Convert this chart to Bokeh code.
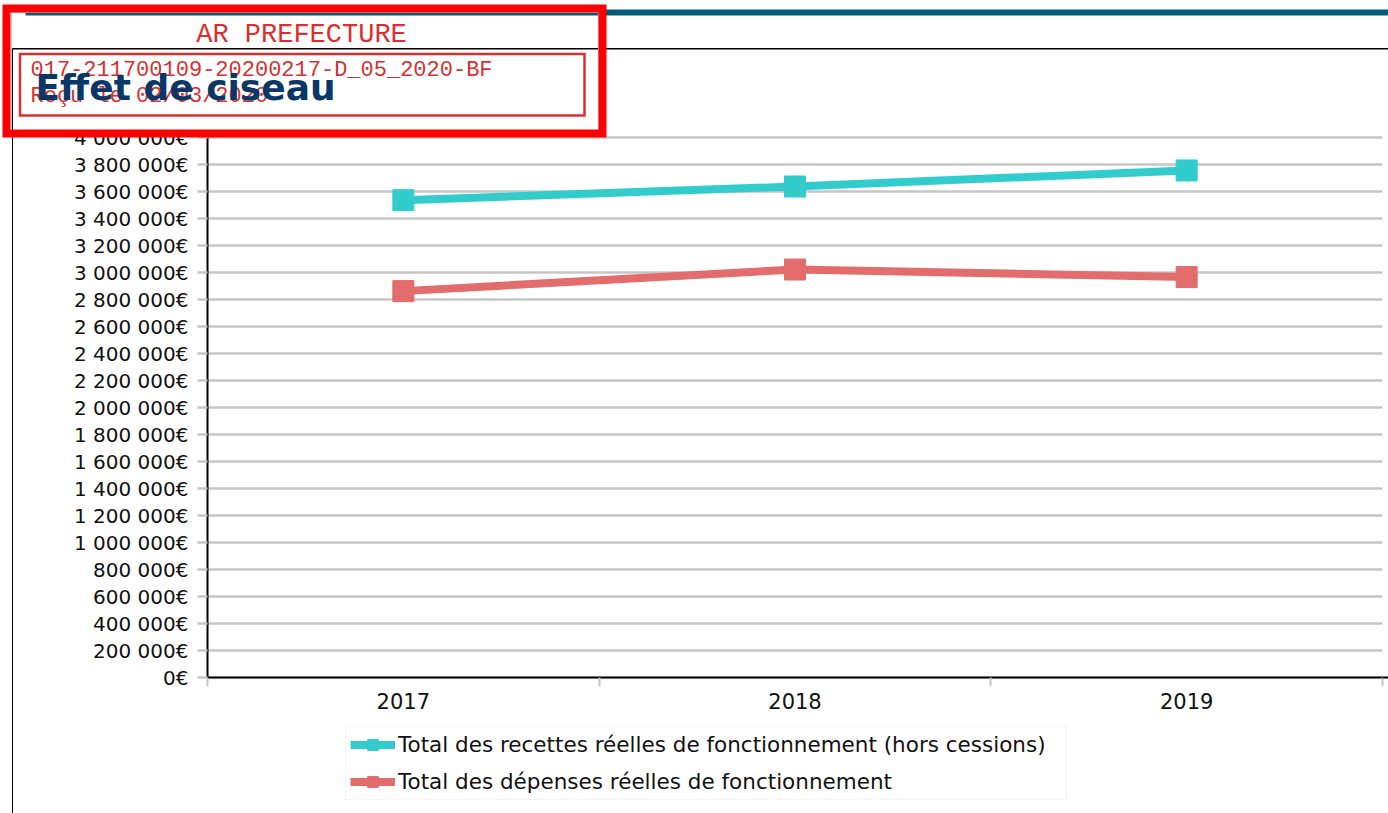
from bokeh.plotting import figure
from bokeh.models import (Range1d, FixedTicker, Legend, LegendItem, BoxAnnotation, Label)
from bokeh.embed import file_html
from bokeh.resources import INLINE

# ---------------- data ----------------
YEARS = [2017, 2018, 2019]
YEAR_LABELS = ["2017", "2018", "2019"]
RECETTES = [3536000, 3637000, 3756000]
DEPENSES = [2862000, 3022000, 2966000]
SERIES_NAMES = ["Total des recettes réelles de fonctionnement (hors cessions)",
                "Total des dépenses réelles de fonctionnement"]
Y_TICKS = [0, 200000, 400000, 600000, 800000, 1000000, 1200000, 1400000, 1600000,
           1800000, 2000000, 2200000, 2400000, 2600000, 2800000, 3000000, 3200000,
           3400000, 3600000, 3800000, 4000000]
Y_TICK_LABELS = ["0€", "200 000€", "400 000€", "600 000€", "800 000€", "1 000 000€",
                 "1 200 000€", "1 400 000€", "1 600 000€", "1 800 000€", "2 000 000€",
                 "2 200 000€", "2 400 000€", "2 600 000€", "2 800 000€", "3 000 000€",
                 "3 200 000€", "3 400 000€", "3 600 000€", "3 800 000€", "4 000 000€"]
TITLE = "Effet de ciseau"
STAMP_HEAD = "AR PREFECTURE"
STAMP_LINES = ["017-211700109-20200217-D_05_2020-BF", "Reçu le 02/03/2020"]

# ---------------- layout (canvas pixels) ----------------
W, H = 1388, 813
FL, FR, FT, FB = 207, 1382, 137, 677   # plot area inside the canvas

TEAL = "#33cccc"
RED = "#e36c6c"
FONT = "DejaVu Sans"

X0, X1 = YEARS[0] - 0.5, YEARS[-1] + 0.5
Y0, Y1 = Y_TICKS[0], Y_TICKS[-1]
kx = (FR - FL) / (X1 - X0)
ky = (FB - FT) / (Y1 - Y0)

p = figure(width=W, height=H, output_backend="svg", toolbar_location=None,
           x_range=Range1d(X0 - FL / kx, X1 + (W - FR) / kx),
           y_range=Range1d(Y0 - (H - FB) / ky, Y1 + FT / ky),
           min_border=0, min_border_left=0, min_border_right=0,
           min_border_top=0, min_border_bottom=0,
           background_fill_color="white", border_fill_color="white",
           outline_line_color=None)
p.grid.visible = False

# axes (drawn at fixed positions inside the full-canvas frame)
ya = p.yaxis[0]
ya.fixed_location = X0
ya.bounds = (Y0, Y1)
ya.ticker = FixedTicker(ticks=Y_TICKS)
ya.major_label_overrides = {t: l for t, l in zip(Y_TICKS, Y_TICK_LABELS)}
ya.major_label_text_font = FONT
ya.major_label_text_font_size = "20px"
ya.major_label_text_color = "#111111"
ya.major_tick_out = 10
ya.major_tick_in = 0
ya.major_tick_line_color = "#c6c6c6"
ya.major_tick_line_width = 2.5
ya.minor_tick_line_color = None
ya.major_label_standoff = 9
ya.axis_line_color = "black"
ya.axis_line_width = 2

xa = p.xaxis[0]
xa.fixed_location = Y0
xa.bounds = (X0, X1)
bounds = [X0] + [y + 0.5 for y in YEARS]
xa.ticker = FixedTicker(ticks=YEARS, minor_ticks=bounds)
xa.major_label_overrides = {y: l for y, l in zip(YEARS, YEAR_LABELS)}
xa.major_label_text_font = FONT
xa.major_label_text_font_size = "21px"
xa.major_label_text_color = "#111111"
xa.major_tick_line_color = None
xa.major_tick_out = 0
xa.major_tick_in = 0
xa.minor_tick_line_color = "#c6c6c6"
xa.minor_tick_line_width = 2
xa.minor_tick_out = 9
xa.minor_tick_in = 0
xa.major_label_standoff = 6
xa.axis_line_color = "black"
xa.axis_line_width = 2

# horizontal grid lines at the y ticks
p.segment(x0=[X0] * len(Y_TICKS), x1=[X1] * len(Y_TICKS), y0=Y_TICKS, y1=Y_TICKS,
          line_color="#c6c6c6", line_width=2.5)

# series
r1l = p.line(YEARS, RECETTES, line_color=TEAL, line_width=8)
r1s = p.scatter(YEARS, RECETTES, marker="square", size=21, fill_color=TEAL, line_color=TEAL)
r2l = p.line(YEARS, DEPENSES, line_color=RED, line_width=8)
r2s = p.scatter(YEARS, DEPENSES, marker="square", size=21, fill_color=RED, line_color=RED)

legend = Legend(items=[LegendItem(label=SERIES_NAMES[0], renderers=[r1l, r1s]),
                       LegendItem(label=SERIES_NAMES[1], renderers=[r2l, r2s])],
                location=(345, H - 800),
                label_text_font=FONT, label_text_font_size="21.5px",
                label_text_color="#111111",
                glyph_width=45, glyph_height=27, label_height=27, label_width=664,
                label_standoff=3, spacing=10, padding=4, margin=0,
                border_line_color="#e8e8e8", border_line_width=1,
                background_fill_color="white", background_fill_alpha=1)
p.add_layout(legend)


# ---------------- page decorations (screen units = canvas, y up) ----------------
def sy(py):
    return H - py


def box(x0, y0, x1, y1, **kw):
    b = BoxAnnotation(left=x0, right=x1, top=sy(y0), bottom=sy(y1),
                      left_units="screen", right_units="screen",
                      top_units="screen", bottom_units="screen",
                      level="overlay", **kw)
    p.add_layout(b)
    return b


def label(text, px, py, size, color, font, align="left", style="normal"):
    lab = Label(x=px, y=sy(py), x_units="screen", y_units="screen", text=text,
                text_font=font, text_font_size=size, text_color=color,
                text_align=align, text_baseline="middle", text_font_style=style,
                level="overlay")
    p.add_layout(lab)
    return lab


box(25, 9, W, 15, fill_color="#005c76", fill_alpha=1, line_color=None)
box(12, 47.5, W, 49, fill_color="black", fill_alpha=1, line_color=None)
box(11.5, 48, 12.5, H, fill_color="black", fill_alpha=1, line_color=None)
box(FR, FB - 1, W, FB + 1, fill_color="black", fill_alpha=1, line_color=None)

# stamp
box(11, 12, 598, 130, fill_alpha=0, line_color="#c4c4c4", line_alpha=1, line_width=1)
box(6, 8, 602, 133, fill_alpha=0, line_color="#ff0000", line_alpha=1, line_width=8,
    line_join="miter")
box(19.5, 53.5, 584, 115, fill_alpha=0, line_color="#d83030", line_alpha=1,
    line_width=2.5, line_join="miter")
label(STAMP_HEAD, 301, 34.5, "27px", "#d83030", "Liberation Mono", align="center")
label(STAMP_LINES[0], 30, 70, "22px", "#d83030", "Liberation Mono")
label(STAMP_LINES[1], 30, 96, "22px", "#d83030", "Liberation Mono")

# title
label(TITLE, 35, 87, "36px", "#0a3766", FONT, style="bold")

open("out.html", "w").write(file_html(p, INLINE))
